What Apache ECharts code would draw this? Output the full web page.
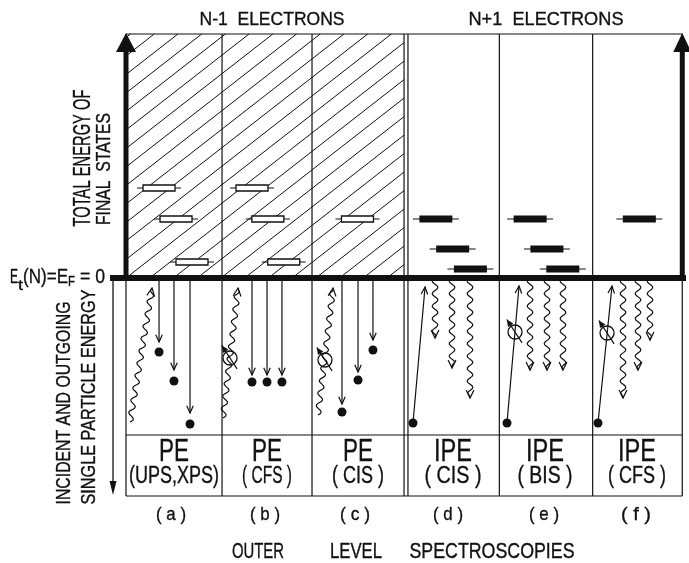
<!DOCTYPE html>
<html>
<head>
<meta charset="utf-8">
<script src="https://cdn.jsdelivr.net/npm/echarts@6/dist/echarts.min.js"></script>
<style>
  html, body { margin: 0; padding: 0; background: #fff; }
  #chart { width: 689px; height: 563px; }
</style>
</head>
<body>
<div id="chart"></div>
<script>
// x: panel units (a..f), y: energy in arbitrary units, 0 = E_F
const colBounds = [0, 1.029, 1.993, 2.979, 3.021, 4.0, 5.0, 5.96];
const topE = 24.4, labelE = -15.7, bottomE = -21.8;
const hRules = [[0, 5.96, topE], [0, 5.96, labelE], [0, 5.96, bottomE]];
const fermiLine = [[-0.171, 0, 6.0, 0]];
const axisArrows = [[0, 0, 0, 24.5], [5.96, 0, 5.96, 24.5], [-0.139, -0.2, -0.139, -21.7]];

// final states (upper half)
const holeLevels = [[0.354, 9.0], [0.536, 5.9], [0.707, 1.6], [1.35, 9.0], [1.52, 5.9], [1.69, 1.6], [2.48, 5.9]];
const electronLevels = [[3.32, 5.9], [3.50, 2.9], [3.69, 0.9], [4.33, 5.9], [4.51, 2.9], [4.68, 0.9], [5.50, 5.9]];

// single particle picture (lower half)
const particles = [[0.354, -7.4], [0.514, -10.3], [0.686, -14.6], [1.35, -10.4], [1.511, -10.4], [1.671, -10.4],
  [2.314, -13.4], [2.486, -10.2], [2.646, -7.2], [3.075, -14.5], [4.082, -14.5], [5.057, -14.5]];
const electronPaths = [ // [x1, y1, x2, y2], arrow at the second point
  [0.354, 0, 0.354, -6.4], [0.514, 0, 0.514, -9.2], [0.686, 0, 0.686, -13.5],
  [1.35, 0, 1.35, -9.7], [1.511, 0, 1.511, -9.7], [1.671, 0, 1.671, -9.7],
  [2.314, 0, 2.314, -12.6], [2.486, 0, 2.486, -9.4], [2.646, 0, 2.646, -6.2],
  [3.075, -14.5, 3.204, -0.9], [4.082, -14.5, 4.211, -0.8], [5.057, -14.5, 5.207, -0.8]
];
const photonsIn = [[0.043, -14.4, 0.279, -1.0], [1.039, -14.0, 1.2, -1.0], [2.057, -13.7, 2.218, -1.0]];
const photonsOut = [[3.311, 0, 3.311, -6.0], [3.493, 0, 3.493, -9.0], [3.686, 0, 3.686, -12.0],
  [4.329, 0, 4.329, -9.2], [4.511, 0, 4.511, -9.2], [4.682, 0, 4.682, -9.2],
  [5.325, 0, 5.325, -12.0], [5.486, 0, 5.486, -9.2], [5.614, 0, 5.614, -6.2]];
const spins = [[1.114, -8.0], [2.132, -8.2], [4.168, -5.4], [5.154, -5.5]];

const methods = ['PE', 'PE', 'PE', 'IPE', 'IPE', 'IPE'];
const variants = ['(UPS,XPS)', '( CFS )', '( CIS )', '( CIS )', '( BIS )', '( CFS )'];
const panelTags = ['( a )', '( b )', '( c )', '( d )', '( e )', '( f )'];

const K = '#111';
const FONT = '"Liberation Sans", Arial, sans-serif';
const thin = { stroke: K, lineWidth: 1.2, fill: null };

const ctx = document.createElement('canvas').getContext('2d');
function measure(str, size) {
  ctx.font = size + 'px ' + FONT;
  return ctx.measureText(str).width;
}
// text squeezed to the narrow lettering of the original
function txt(str, x, y, size, width, opts) {
  opts = opts || {};
  return {
    type: 'text', silent: true,
    x: x, y: y,
    rotation: opts.rot || 0,
    scaleX: width / measure(str, size),
    style: {
      text: str, fontSize: size, fontFamily: FONT, fill: K,
      stroke: K, lineWidth: 0.35,
      align: opts.align || 'center', verticalAlign: 'middle'
    }
  };
}

function vHead(tip, from, len, half) {
  const dx = from[0] - tip[0], dy = from[1] - tip[1], L = Math.hypot(dx, dy);
  const ux = dx / L, uy = dy / L, c = Math.cos(half), s = Math.sin(half);
  return {
    type: 'polyline',
    shape: { points: [
      [tip[0] + len * (ux * c - uy * s), tip[1] + len * (uy * c + ux * s)],
      tip,
      [tip[0] + len * (ux * c + uy * s), tip[1] + len * (uy * c - ux * s)]
    ] },
    style: thin
  };
}

function wave(p1, p2) {
  const dx = p2[0] - p1[0], dy = p2[1] - p1[1], L = Math.hypot(dx, dy);
  const ux = dx / L, uy = dy / L, nx = -uy, ny = ux;
  const pts = [], n = Math.ceil(L / 1.2);
  for (let i = 0; i <= n; i++) {
    const t = i / n * L;
    const taper = t > L - 6 ? (L - t) / 6 : 1;
    const o = 2.8 * Math.sin(2 * Math.PI * t / 12.5) * taper;
    pts.push([p1[0] + ux * t + nx * o, p1[1] + uy * t + ny * o]);
  }
  return pts;
}

const texts = [
  txt('N-1  ELECTRONS', 272, 20, 19, 145),
  txt('N+1  ELECTRONS', 546, 20, 19, 155),
  txt('TOTAL ENERGY OF', 83, 158, 24, 137, { rot: Math.PI / 2 }),
  txt('FINAL  STATES', 104, 169, 21, 112, { rot: Math.PI / 2 }),
  txt('INCIDENT AND OUTGOING', 64, 403, 21, 203, { rot: Math.PI / 2 }),
  txt('SINGLE PARTICLE ENERGY', 89, 397, 21, 215, { rot: Math.PI / 2 }),
  txt('E', 10, 277, 21, 8, { align: 'left' }),
  txt('t', 18, 286, 14, 5, { align: 'left' }),
  txt('(N)=E', 23, 277, 21, 45, { align: 'left' }),
  txt('F', 68, 282, 14, 7, { align: 'left' }),
  txt('= 0', 80, 277, 21, 25, { align: 'left' }),
  txt('OUTER', 258, 552, 22, 52),
  txt('LEVEL', 356, 552, 22, 52),
  txt('SPECTROSCOPIES', 492, 552, 22, 165)
];
const colCenters = [174, 267, 358, 453, 545, 637];
const tagCenters = [171, 265, 355, 448, 544, 636];
const variantW = [90, 50, 52, 57, 55, 58];
methods.forEach((m, i) => {
  texts.push(txt(m, colCenters[i], 452, 31, m === 'PE' ? 30 : 38));
  texts.push(txt(variants[i], colCenters[i], 477, 23, variantW[i]));
  texts.push(txt(panelTags[i], tagCenters[i], 515, 19, 30));
});

const custom = (name, data, z, renderItem) => ({
  type: 'custom', name: name, coordinateSystem: 'cartesian2d',
  clip: false, silent: true, z: z, data: data, renderItem: renderItem
});

const chart = echarts.init(document.getElementById('chart'));
chart.setOption({
  animation: false,
  backgroundColor: '#fff',
  grid: { left: 126, right: 3, top: 34, bottom: 67 },
  xAxis: { type: 'value', min: 0, max: 6, show: false },
  yAxis: { type: 'value', min: bottomE, max: topE, show: false },
  graphic: texts,
  series: [
    custom('hatch', [[colBounds[0], 0, colBounds[3], topE]], 1, (p, api) => {
      const a = api.coord([api.value(0), api.value(3)]), b = api.coord([api.value(2), api.value(1)]);
      const L = a[0], T = a[1], R = b[0], B = b[1];
      const m = 0.78, s = 18.5, b0 = 56 + m * 126;
      const kids = [];
      for (let k = Math.floor((T + m * L - b0) / s); b0 + k * s <= B + m * R; k++) {
        const bb = b0 + k * s;
        const xa = Math.max(L, (bb - B) / m), xb = Math.min(R, (bb - T) / m);
        if (xb > xa) kids.push({ type: 'line', shape: { x1: xa, y1: bb - m * xa, x2: xb, y2: bb - m * xb }, style: { stroke: K, lineWidth: 1 } });
      }
      return { type: 'group', children: kids };
    }),
    custom('panel borders', colBounds.map(x => [x]), 3, (p, api) => {
      const t = api.coord([api.value(0), topE]), b = api.coord([api.value(0), bottomE]);
      return { type: 'line', shape: { x1: t[0], y1: t[1], x2: b[0], y2: b[1] }, style: { stroke: K, lineWidth: 1.2 } };
    }),
    custom('rules', hRules, 3, (p, api) => {
      const a = api.coord([api.value(0), api.value(2)]), b = api.coord([api.value(1), api.value(2)]);
      return { type: 'line', shape: { x1: a[0], y1: a[1], x2: b[0], y2: b[1] }, style: { stroke: K, lineWidth: 1.2 } };
    }),
    custom('hole states', holeLevels, 4, (p, api) => {
      const c = api.coord([api.value(0), api.value(1)]);
      return { type: 'group', children: [
        { type: 'line', shape: { x1: c[0] - 22, y1: c[1], x2: c[0] + 22, y2: c[1] }, style: { stroke: K, lineWidth: 1.2 } },
        { type: 'rect', shape: { x: c[0] - 16, y: c[1] - 3, width: 32, height: 6 }, style: { fill: '#fff', stroke: K, lineWidth: 1.3 } }
      ] };
    }),
    custom('electron states', electronLevels, 4, (p, api) => {
      const c = api.coord([api.value(0), api.value(1)]);
      return { type: 'group', children: [
        { type: 'line', shape: { x1: c[0] - 23, y1: c[1], x2: c[0] + 23, y2: c[1] }, style: { stroke: K, lineWidth: 1.2 } },
        { type: 'rect', shape: { x: c[0] - 16.5, y: c[1] - 3.5, width: 33, height: 7 }, style: { fill: K } }
      ] };
    }),
    custom('electrons', electronPaths, 5, (p, api) => {
      const a = api.coord([api.value(0), api.value(1)]), b = api.coord([api.value(2), api.value(3)]);
      return { type: 'group', children: [
        { type: 'line', shape: { x1: a[0], y1: a[1], x2: b[0], y2: b[1] }, style: thin },
        vHead(b, a, 8, 0.42)
      ] };
    }),
    custom('photons', photonsIn.concat(photonsOut), 5, (p, api) => {
      const a = api.coord([api.value(0), api.value(1)]), b = api.coord([api.value(2), api.value(3)]);
      return { type: 'group', children: [
        { type: 'polyline', shape: { points: wave(a, b) }, style: thin },
        vHead(b, a, 9, 0.45)
      ] };
    }),
    custom('spin', spins, 6, (p, api) => {
      const c = api.coord([api.value(0), api.value(1)]);
      const dx = -0.545, dy = -0.836, nx = -dy, ny = dx;
      const tail = [c[0] - dx * 13, c[1] - dy * 13], tip = [c[0] + dx * 15, c[1] + dy * 15];
      return { type: 'group', children: [
        { type: 'circle', shape: { cx: c[0], cy: c[1], r: 7 }, style: { fill: 'rgba(0,0,0,0)', stroke: K, lineWidth: 1.3 } },
        { type: 'line', shape: { x1: tail[0], y1: tail[1], x2: tip[0], y2: tip[1] }, style: thin },
        { type: 'polygon', shape: { points: [tip,
          [tip[0] - dx * 7 + nx * 3.2, tip[1] - dy * 7 + ny * 3.2],
          [tip[0] - dx * 7 - nx * 3.2, tip[1] - dy * 7 - ny * 3.2]] }, style: { fill: K } }
      ] };
    }),
    {
      type: 'scatter', name: 'particles', data: particles, z: 7, silent: true,
      symbol: 'circle', symbolSize: 9, itemStyle: { color: K, opacity: 1 }
    },
    custom('fermi level', fermiLine, 8, (p, api) => {
      const a = api.coord([api.value(0), api.value(1)]), b = api.coord([api.value(2), api.value(3)]);
      return { type: 'line', shape: { x1: a[0], y1: a[1], x2: b[0], y2: b[1] }, style: { stroke: K, lineWidth: 6 } };
    }),
    custom('energy axes', axisArrows, 8, (p, api) => {
      const a = api.coord([api.value(0), api.value(1)]), b = api.coord([api.value(2), api.value(3)]);
      const st = [{ w: 5, hl: 19, hw: 10 }, { w: 5, hl: 19, hw: 9 }, { w: 1.3, hl: 14, hw: 3.5 }][p.dataIndex];
      const dir = b[1] < a[1] ? 1 : -1;
      return { type: 'group', children: [
        { type: 'line', shape: { x1: a[0], y1: a[1], x2: b[0], y2: b[1] + dir * st.hl * 0.8 }, style: { stroke: K, lineWidth: st.w } },
        { type: 'polygon', shape: { points: [[b[0], b[1]], [b[0] - st.hw, b[1] + dir * st.hl], [b[0] + st.hw, b[1] + dir * st.hl]] }, style: { fill: K } }
      ] };
    })
  ]
});
</script>
</body>
</html>
